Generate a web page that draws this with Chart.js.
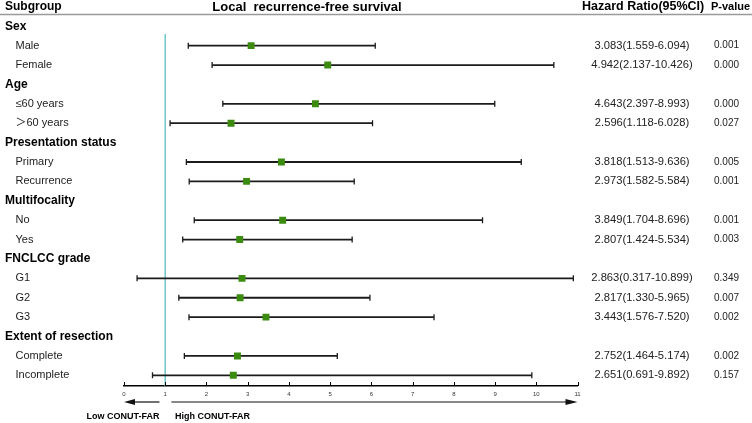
<!DOCTYPE html>
<html><head><meta charset="utf-8">
<script src="https://cdn.jsdelivr.net/npm/chart.js@4/dist/chart.umd.min.js"></script>
<style>html,body{margin:0;padding:0;background:#fff;}#wrap{width:752px;height:423px;position:relative;}</style>
</head><body><div id="wrap"><canvas id="c" width="752" height="423"></canvas></div>
<script>
const rowLabels = ['Sex','Male','Female','Age','≤60 years','＞60 years','Presentation status','Primary','Recurrence','Multifocality','No','Yes','FNCLCC grade','G1','G2','G3','Extent of resection','Complete','Incomplete'];
const isGroupHeader = [true,false,false,true,false,false,true,false,false,true,false,false,true,false,false,false,true,false,false];
const hazardRatio = [null,3.083,4.942,null,4.643,2.596,null,3.818,2.973,null,3.849,2.807,null,2.863,2.817,3.443,null,2.752,2.651];
const ciLow  = [null,1.559,2.137,null,2.397,1.118,null,1.513,1.582,null,1.704,1.424,null,0.317,1.330,1.576,null,1.464,0.691];
const ciHigh = [null,6.094,10.426,null,8.993,6.028,null,9.636,5.584,null,8.696,5.534,null,10.899,5.965,7.520,null,5.174,9.892];
const pValues = [null,'0.001','0.000',null,'0.000','0.027',null,'0.005','0.001',null,'0.001','0.003',null,'0.349','0.007','0.002',null,'0.002','0.157'];
const xTicks = [0,1,2,3,4,5,6,7,8,9,10,11];
const referenceValue = 1;
const titleText = 'Local  recurrence-free survival';
const leftArrowLabel = 'Low CONUT-FAR';
const rightArrowLabel = 'High CONUT-FAR';

const FONT = '"Liberation Sans", Arial, "Noto Sans CJK SC", sans-serif';

const points = [];
hazardRatio.forEach((v,i)=>{ if(v!=null) points.push({x:v,y:i}); });

const forestPlugin = {
  id:'forest',
  beforeDatasetsDraw(chart){
    const ctx = chart.ctx, xs = chart.scales.x, ys = chart.scales.y, ca = chart.chartArea;
    ctx.save();
    const rx = xs.getPixelForValue(referenceValue);
    ctx.strokeStyle = '#6ec4cc'; ctx.lineWidth = 1.5;
    ctx.beginPath(); ctx.moveTo(rx, ca.top); ctx.lineTo(rx, ca.bottom); ctx.stroke();
    ctx.strokeStyle = '#1c1c1c';
    hazardRatio.forEach((v,i)=>{
      if(v==null) return;
      const y = ys.getPixelForValue(i);
      const x1 = xs.getPixelForValue(ciLow[i]), x2 = xs.getPixelForValue(ciHigh[i]);
      ctx.lineWidth = 1.8;
      ctx.beginPath(); ctx.moveTo(x1,y); ctx.lineTo(x2,y); ctx.stroke();
      ctx.lineWidth = 1.3;
      ctx.beginPath(); ctx.moveTo(x1,y-3); ctx.lineTo(x1,y+3); ctx.moveTo(x2,y-3); ctx.lineTo(x2,y+3); ctx.stroke();
    });
    ctx.restore();
  },
  afterDraw(chart){
    const ctx = chart.ctx, xs = chart.scales.x, ys = chart.scales.y, ca = chart.chartArea;
    ctx.save();
    ctx.fillStyle = '#000'; ctx.textBaseline = 'middle';
    ctx.font = 'bold 12px ' + FONT; ctx.textAlign = 'left';
    ctx.fillText('Subgroup', 5, 7);
    ctx.font = 'bold 13px ' + FONT; ctx.textAlign = 'center';
    ctx.fillText(titleText, 307, 7);
    ctx.font = 'bold 12.5px ' + FONT; ctx.textAlign = 'left';
    ctx.fillText('Hazard Ratio(95%CI)', 582, 7);
    ctx.font = 'bold 11px ' + FONT;
    ctx.fillText('P-value', 711, 7);
    ctx.strokeStyle = '#9a9a9a'; ctx.lineWidth = 1.5;
    ctx.beginPath(); ctx.moveTo(0, 14.5); ctx.lineTo(752, 14.5); ctx.stroke();
    rowLabels.forEach((lab,i)=>{
      const y = ys.getPixelForValue(i);
      if(isGroupHeader[i]){
        ctx.font = 'bold 12px ' + FONT; ctx.fillStyle = '#000'; ctx.textAlign = 'left';
        ctx.fillText(lab, 5, y);
      } else {
        ctx.font = '11px ' + FONT; ctx.fillStyle = '#222'; ctx.textAlign = 'left';
        ctx.fillText(lab, 15.5, y);
        const txt = hazardRatio[i].toFixed(3) + '(' + ciLow[i].toFixed(3) + '-' + ciHigh[i].toFixed(3) + ')';
        ctx.font = '11.2px ' + FONT; ctx.textAlign = 'center';
        ctx.fillText(txt, 642, y);
        ctx.font = '10px ' + FONT; ctx.textAlign = 'left';
        ctx.fillText(pValues[i], 714, y);
      }
    });
    ctx.strokeStyle = '#000'; ctx.lineWidth = 1;
    xTicks.forEach(t=>{
      const x = Math.round(xs.getPixelForValue(t)) + 0.5;
      ctx.beginPath(); ctx.moveTo(x, ca.bottom); ctx.lineTo(x, ca.bottom - 4); ctx.stroke();
    });
    const ay = 402;
    const l0 = xs.getPixelForValue(0), l1 = xs.getPixelForValue(0.86);
    const r0 = xs.getPixelForValue(1.15), r1 = xs.getPixelForValue(11);
    ctx.strokeStyle = '#111'; ctx.fillStyle = '#111'; ctx.lineWidth = 1.2;
    ctx.beginPath(); ctx.moveTo(l1, ay); ctx.lineTo(l0 + 8, ay); ctx.stroke();
    ctx.beginPath(); ctx.moveTo(l0, ay); ctx.lineTo(l0 + 11, ay - 3); ctx.lineTo(l0 + 11, ay + 3); ctx.closePath(); ctx.fill();
    ctx.beginPath(); ctx.moveTo(r0, ay); ctx.lineTo(r1 - 8, ay); ctx.stroke();
    ctx.beginPath(); ctx.moveTo(r1, ay); ctx.lineTo(r1 - 12, ay - 3); ctx.lineTo(r1 - 12, ay + 3); ctx.closePath(); ctx.fill();
    ctx.fillStyle = '#000'; ctx.font = 'bold 9px ' + FONT;
    ctx.textAlign = 'right'; ctx.fillText(leftArrowLabel, 159.5, 417);
    ctx.textAlign = 'left'; ctx.fillText(rightArrowLabel, 175, 417);
    ctx.restore();
  }
};

new Chart(document.getElementById('c'), {
  type:'scatter',
  data:{ datasets:[{
    data: points,
    pointStyle:'rect', pointRadius:4.9, pointHoverRadius:4.9,
    backgroundColor:'#3b8b10', borderColor:'#3b8b10', borderWidth:0
  }]},
  options:{
    responsive:false, animation:false,
    layout:{ padding:{ left:124, right:174.5, top:34, bottom:0 } },
    plugins:{ legend:{display:false}, tooltip:{enabled:false} },
    scales:{
      x:{
        type:'linear', min:0, max:11,
        afterBuildTicks(scale){ scale.ticks = xTicks.map(v=>({value:v})); },
        afterFit(scale){ scale.height = 37; },
        grid:{ display:false, drawTicks:false },
        border:{ display:true, color:'#000', width:1.5 },
        ticks:{ padding:5, font:{ size:6, family:FONT }, color:'#333', maxRotation:0, autoSkip:false }
      },
      y:{ type:'linear', reverse:true, min:0.4, max:18.55, display:false }
    }
  },
  plugins:[forestPlugin]
});
</script></body></html>
